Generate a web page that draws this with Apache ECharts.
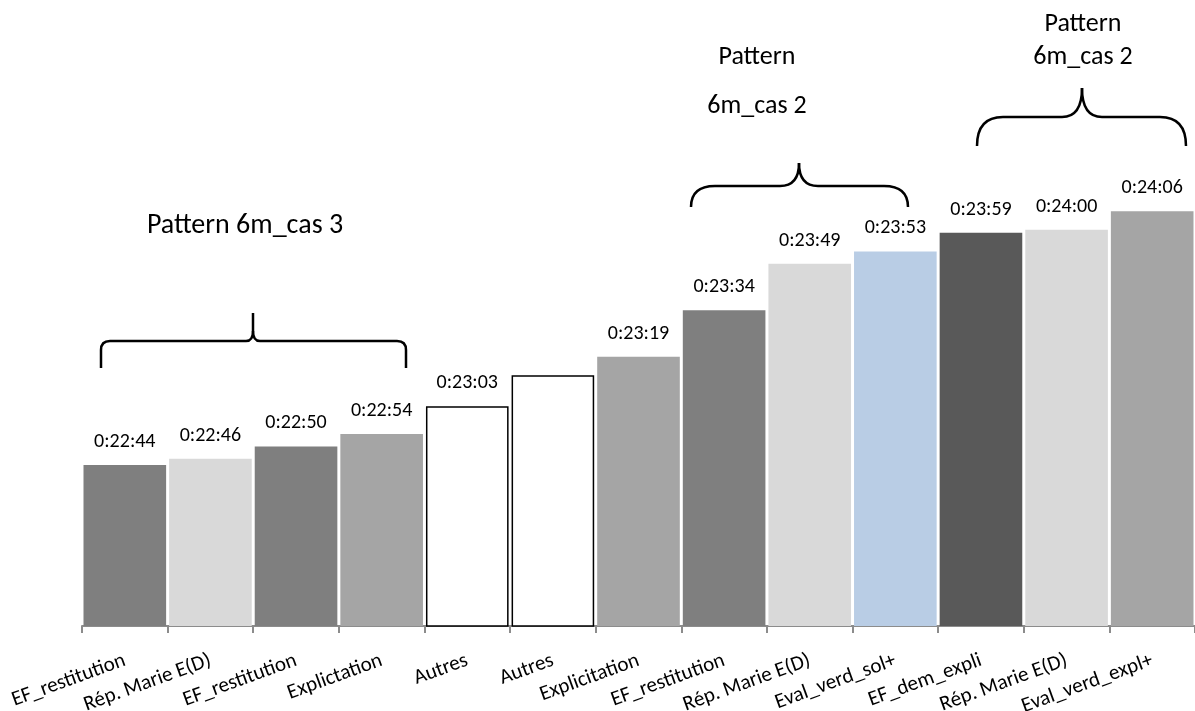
<!DOCTYPE html>
<html><head><meta charset="utf-8">
<script src="https://cdn.jsdelivr.net/npm/echarts@6/dist/echarts.min.js"></script>
<style>html,body{margin:0;padding:0;background:#fff}#c{width:1195px;height:711px}</style>
</head><body><div id="c"></div>
<script>
const categories = ["EF_restitution","Rép. Marie E(D)","EF_restitution","Explictation","Autres","Autres","Explicitation","EF_restitution","Rép. Marie E(D)","Eval_verd_sol+","EF_dem_expli","Rép. Marie E(D)","Eval_verd_expl+"];
const times = ["0:22:44","0:22:46","0:22:50","0:22:54","0:23:03","0:23:13","0:23:19","0:23:34","0:23:49","0:23:53","0:23:59","0:24:00","0:24:06"];
const labelShown = [true,true,true,true,true,false,true,true,true,true,true,true,true];
const barColors = ["#7f7f7f","#d9d9d9","#7f7f7f","#a5a5a5","#ffffff","#ffffff","#a5a5a5","#7f7f7f","#d9d9d9","#b9cde5","#595959","#d9d9d9","#a5a5a5"];
const outlined = [false,false,false,false,true,true,false,false,false,false,false,false,false];

function toSec(t){const p=t.split(':').map(Number);return p[0]*3600+p[1]*60+p[2];}
function toTime(s){const h=Math.floor(s/3600),m=Math.floor((s%3600)/60),x=s%60;return h+':'+String(m).padStart(2,'0')+':'+String(x).padStart(2,'0');}
const seconds = times.map(toSec);

const FONT = 'Carlito, Lato, sans-serif';
const chart = echarts.init(document.getElementById('c'));
const braceStyle = {fill:'none', stroke:'#000', lineWidth:2.5};

function L(x1,y1,x2,y2){return {type:'line',shape:{x1,y1,x2,y2},style:braceStyle};}
function Q(x1,y1,cx,cy,x2,y2){return {type:'bezierCurve',shape:{x1,y1,x2,y2,cpx1:cx,cpy1:cy},style:braceStyle};}
function brace(x1,x2,xc,yb,yh,yt,r,rc){
  return [Q(x1,yb,x1,yh,x1+r,yh), L(x1+r,yh,xc-rc,yh), Q(xc-rc,yh,xc,yh,xc,yt),
          Q(xc,yt,xc,yh,xc+rc,yh), L(xc+rc,yh,x2-r,yh), Q(x2-r,yh,x2,yh,x2,yb)];
}
function braceSq(x1,x2,xc,yb,yh,yt){
  return [L(x1,yb,x1,yh+9), Q(x1,yh+9,x1,yh,x1+9,yh), L(x1+9,yh,xc-7,yh), Q(xc-7,yh,xc,yh,xc,yh-10), L(xc,yh-10,xc,yt),
          Q(xc,yh-10,xc,yh,xc+7,yh), L(xc+7,yh,x2-9,yh), Q(x2-9,yh,x2,yh,x2,yh+9), L(x2,yh+9,x2,yb)];
}
function txt(x,y,t,size){return {type:'text',x,y,style:{text:t,font:size+'px '+FONT,fill:'#000',align:'center',verticalAlign:'middle'}};}

chart.setOption({
  animation:false,
  backgroundColor:'#fff',
  grid:{left:82,right:0,top:44,bottom:85,containLabel:false,outerBoundsMode:'none'},
  xAxis:{type:'category',data:categories,
    axisLine:{lineStyle:{color:'#8c8c8c',width:2}},
    axisTick:{show:true,length:7,lineStyle:{color:'#8c8c8c',width:2}},
    axisLabel:{interval:0,rotate:20,fontSize:21,fontFamily:FONT,color:'#000',margin:34}},
  yAxis:{type:'value',min:1312,max:1500,show:false,splitLine:{show:false}},
  series:[{type:'bar',barCategoryGap:'3.5%',
    data:seconds.map((v,i)=>({value:v,
      itemStyle:{color:barColors[i],borderColor:outlined[i]?'#000':barColors[i],borderWidth:outlined[i]?1.5:0},
      label:{show:labelShown[i]}})),
    label:{position:'top',distance:13,fontSize:20,fontFamily:FONT,color:'#000',formatter:p=>toTime(p.value)}}],
  graphic:[].concat(
    braceSq(101,406,253,368,341,313),
    brace(691,908,799,207,186,163,24,19),
    brace(977,1186,1082,146,117,88,26,20),
    [txt(245,226,'Pattern 6m_cas 3',28),
     txt(757,57,'Pattern',26), txt(757,106,'6m_cas 2',26),
     txt(1083,24,'Pattern',26), txt(1083,57,'6m_cas 2',26)])
});
</script></body></html>
